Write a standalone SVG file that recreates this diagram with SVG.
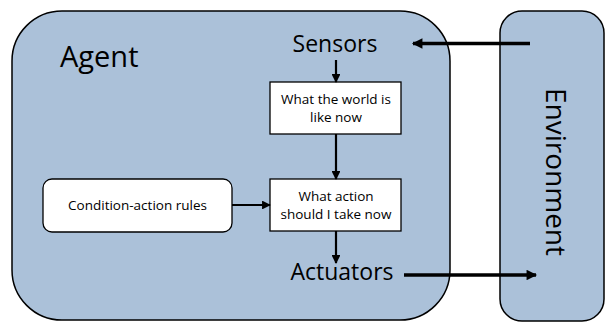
<svg xmlns="http://www.w3.org/2000/svg" width="605" height="322" viewBox="0 0 605 322">
<defs>
<style>
.panel{fill:#abc1d9;stroke:#000;stroke-width:1.5}
.box{fill:#fff;stroke:#000;stroke-width:1.3}
.t{font-family:"Open Sans","Noto Sans",sans-serif;fill:#000}
.small{font-size:13.5px;text-anchor:middle}
.big{font-size:23px;text-anchor:middle}
.thin{stroke:#000;stroke-width:2.2;fill:none}
.thick{stroke:#000;stroke-width:3.5;fill:none}
</style>
<marker id="ah" viewBox="0 0 10 10" refX="9" refY="5" markerWidth="4" markerHeight="4" orient="auto" markerUnits="strokeWidth">
<path d="M0,0 L10,5 L0,10 z" fill="#000"/>
</marker>
<marker id="ahb" viewBox="0 0 10 10" refX="9" refY="5" markerWidth="3.6" markerHeight="3" orient="auto" markerUnits="strokeWidth">
<path d="M0,0 L10,5 L0,10 z" fill="#000"/>
</marker>
</defs>
<g id="agent">
<rect class="panel" x="12" y="11" width="438" height="309" rx="50" ry="50"/>
<text class="t" x="60" y="67" font-size="29">Agent</text>
</g>
<g id="environment">
<rect class="panel" x="500" y="11" width="104" height="310" rx="22" ry="22"/>
<text class="t" transform="translate(546,172) rotate(90)" font-size="28" text-anchor="middle">Environment</text>
</g>
<g id="sensors">
<text class="t big" x="335" y="52">Sensors</text>
</g>
<g id="world">
<rect class="box" x="270" y="82" width="131" height="52"/>
<text class="t small" x="336" y="104">What the world is</text>
<text class="t small" x="336" y="122">like now</text>
</g>
<g id="action">
<rect class="box" x="270" y="179" width="131" height="52"/>
<text class="t small" x="336" y="201">What action</text>
<text class="t small" x="336" y="219">should I take now</text>
</g>
<g id="rules">
<rect class="box" x="43" y="179" width="189" height="53" rx="9" ry="9"/>
<text class="t" x="137.5" y="210" font-size="13.5" text-anchor="middle">Condition-action rules</text>
</g>
<g id="actuators">
<text class="t big" x="342" y="280">Actuators</text>
</g>
<g id="connectors">
<line class="thin" x1="336" y1="60" x2="336" y2="82" marker-end="url(#ah)"/>
<line class="thin" x1="336" y1="134" x2="336" y2="179" marker-end="url(#ah)"/>
<line class="thin" x1="232" y1="205" x2="270" y2="205" marker-end="url(#ah)"/>
<line class="thin" x1="336" y1="231" x2="336" y2="263" marker-end="url(#ah)"/>
<line class="thick" x1="530" y1="43.5" x2="413" y2="43.5" marker-end="url(#ahb)"/>
<line class="thick" x1="404" y1="275" x2="536" y2="275" marker-end="url(#ahb)"/>
</g>
</svg>
